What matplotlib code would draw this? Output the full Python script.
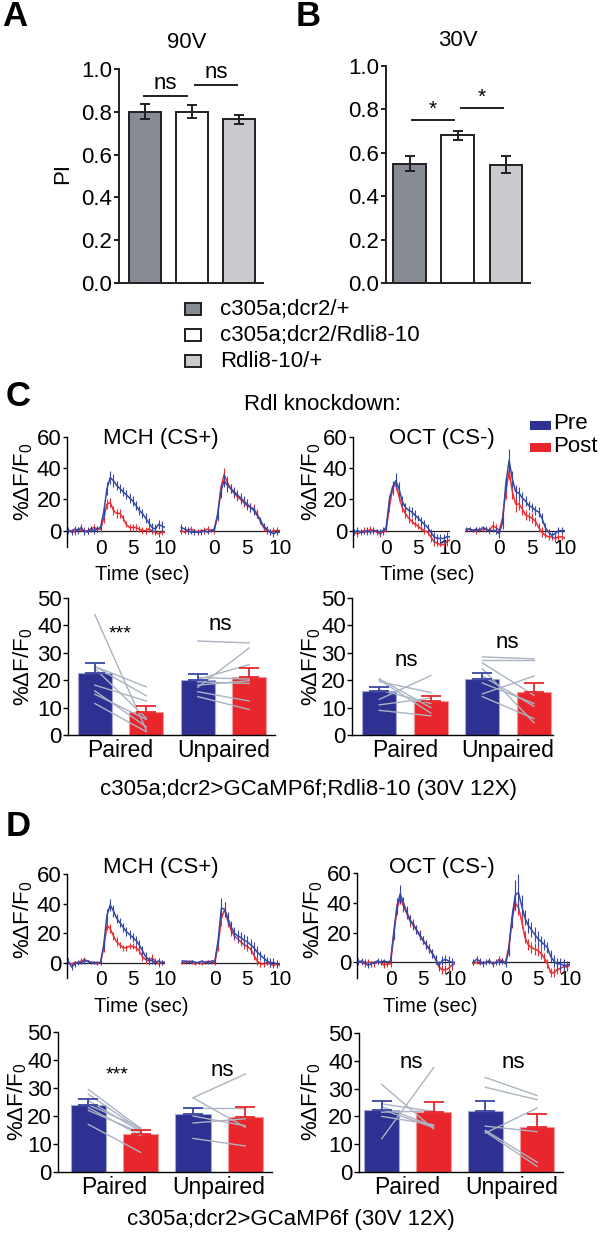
import numpy as np
import matplotlib
matplotlib.use("Agg")
import matplotlib.pyplot as plt
from matplotlib.patches import Rectangle

plt.rcParams["font.family"] = ["Liberation Sans", "DejaVu Sans"]
plt.rcParams["mathtext.fontset"] = "custom"
plt.rcParams["mathtext.rm"] = "Liberation Sans"
plt.rcParams["mathtext.it"] = "Liberation Sans:italic"
plt.rcParams["font.size"] = 16

# -----------------------------
# Data
# -----------------------------
GENOTYPES = ["c305a;dcr2/+", "c305a;dcr2/Rdli8-10", "Rdli8-10/+"]
PI_90V = [0.80, 0.80, 0.765]
PI_90V_SEM = [0.035, 0.030, 0.020]
PI_30V = [0.55, 0.68, 0.545]
PI_30V_SEM = [0.035, 0.020, 0.040]

TIME = [-5.0, -4.5, -4.0, -3.5, -3.0, -2.5, -2.0, -1.5, -1.0, -0.5,
        0.0, 0.5, 1.0, 1.5, 2.0, 2.5, 3.0, 3.5, 4.0, 4.5, 5.0,
        5.5, 6.0, 6.5, 7.0, 7.5, 8.0, 8.5, 9.0, 9.5, 10.0]

# panel C traces (Rdl knockdown)
C_MCH_P_PRE = [0, -1, 1, 0, 2, -1, 0, 1, 0, 1, 2, 12, 27, 34, 32, 29, 27, 25, 23, 21, 19, 16, 13, 11, 8, 5, 2, 1, 4, 3, 2]
C_MCH_P_PRE_SEM = [2, 2, 2, 2, 2, 2, 2, 2, 2, 2, 2, 3, 4, 4, 4, 3, 3, 3, 3, 3, 3, 3, 3, 3, 3, 3, 3, 3, 3, 3, 3]
C_MCH_P_POST = [0, 0, -1, 1, 0, 0, -1, 1, 2, 1, 1, 8, 17, 18, 13, 11, 11, 8, 4, 2, 2, 2, 1, 0, 0, 1, 0, -1, -2, -1, -1]
C_MCH_P_POST_SEM = [1, 1, 2, 1, 1, 2, 1, 2, 2, 2, 2, 3, 3, 3, 3, 3, 3, 2, 2, 2, 2, 2, 2, 2, 2, 2, 2, 2, 2, 2, 2]
C_MCH_U_PRE = [2, 1, 0, -1, -1, -1, -1, 0, -1, 0, 1, 10, 25, 32, 29, 27, 25, 23, 21, 19, 17, 15, 13, 10, 7, 3, 1, -1, -2, -1, -1]
C_MCH_U_PRE_SEM = [2, 2, 2, 1, 2, 1, 2, 1, 1, 1, 2, 3, 4, 4, 4, 3, 3, 3, 3, 3, 3, 3, 3, 2, 2, 2, 2, 2, 2, 2, 2]
C_MCH_U_POST = [0, -1, 0, 1, 0, -1, 0, 0, 1, 0, 0, 9, 27, 36, 31, 27, 24, 22, 20, 18, 16, 15, 14, 11, 6, 2, 0, -1, 0, 0, 0]
C_MCH_U_POST_SEM = [2, 1, 2, 2, 1, 2, 1, 2, 2, 1, 2, 3, 4, 4, 4, 3, 3, 3, 3, 3, 3, 3, 3, 3, 2, 2, 2, 2, 2, 2, 2]
C_OCT_P_PRE = [-1, 0, -1, -1, 0, -1, 0, 0, -1, 0, 2, 20, 28, 32, 27, 19, 15, 13, 12, 10, 8, 6, 4, 2, -1, -4, -5, -5, -5, -4, -4]
C_OCT_P_PRE_SEM = [2, 2, 2, 1, 2, 1, 2, 1, 2, 2, 2, 3, 4, 5, 4, 3, 3, 3, 3, 3, 2, 3, 3, 2, 2, 3, 3, 3, 3, 3, 3]
C_OCT_P_POST = [-1, -2, -1, 0, -1, 1, 0, -1, -2, -1, 1, 15, 27, 30, 22, 15, 11, 8, 6, 4, 3, 1, 0, -1, -4, -7, -8, -9, -9, -7, -6]
C_OCT_P_POST_SEM = [2, 2, 1, 2, 2, 2, 1, 2, 2, 2, 2, 3, 4, 4, 3, 3, 3, 3, 2, 2, 2, 2, 2, 2, 3, 3, 3, 3, 3, 3, 3]
C_OCT_U_PRE = [1, 1, 0, 1, 0, 2, 1, 0, 0, 0, -2, 5, 30, 45, 33, 25, 24, 21, 19, 16, 15, 13, 12, 8, 2, -1, -3, -2, 0, 0, 0]
C_OCT_U_PRE_SEM = [1, 1, 1, 1, 1, 1, 2, 1, 1, 2, 3, 4, 5, 7, 5, 4, 4, 4, 3, 3, 3, 3, 3, 3, 3, 2, 2, 2, 2, 2, 2]
C_OCT_U_POST = [0, 1, 0, 0, 1, 0, 1, 0, 3, 2, 0, 8, 25, 38, 25, 17, 17, 14, 10, 9, 8, 6, 2, -1, -3, -4, -4, -5, -4, -4, -5]
C_OCT_U_POST_SEM = [1, 1, 1, 2, 1, 1, 1, 2, 3, 2, 2, 4, 5, 5, 5, 5, 4, 4, 3, 3, 3, 3, 3, 3, 2, 2, 2, 2, 2, 2, 2]

# panel D traces (control)
D_MCH_P_PRE = [1, -3, -1, 0, 0, 1, 1, 0, 0, 0, 0, 12, 32, 39, 35, 30, 27, 24, 21, 19, 17, 15, 12, 8, 4, 2, 1, 0, 1, 0, 0]
D_MCH_P_PRE_SEM = [2, 2, 2, 2, 1, 2, 1, 1, 1, 1, 2, 3, 4, 4, 4, 3, 3, 3, 3, 3, 3, 3, 3, 3, 3, 2, 2, 2, 2, 2, 2]
D_MCH_P_POST = [0, -1, 0, 0, 1, 2, 1, 0, 0, -1, 0, 10, 25, 23, 18, 14, 12, 10, 10, 11, 11, 10, 8, 4, 2, 1, 3, 1, -1, 0, 0]
D_MCH_P_POST_SEM = [1, 1, 1, 1, 2, 2, 1, 1, 1, 1, 1, 3, 3, 3, 3, 3, 2, 2, 2, 2, 2, 2, 2, 3, 3, 3, 3, 2, 2, 2, 2]
D_MCH_U_PRE = [1, 1, 0, 1, 0, 0, 1, 0, 0, 1, 1, 15, 37, 36, 30, 24, 20, 18, 17, 15, 14, 12, 10, 7, 5, 3, 1, 0, 0, -1, -1]
D_MCH_U_PRE_SEM = [1, 1, 1, 1, 1, 1, 1, 1, 1, 1, 2, 4, 7, 5, 4, 4, 4, 4, 4, 4, 4, 4, 4, 4, 3, 3, 3, 3, 3, 3, 3]
D_MCH_U_POST = [0, 0, 1, 0, -1, 0, -1, 0, 1, 0, 0, 12, 30, 36, 28, 22, 18, 16, 14, 12, 11, 9, 5, 1, -1, -1, 0, -1, -2, -1, -2]
D_MCH_U_POST_SEM = [1, 1, 1, 1, 1, 1, 1, 1, 1, 1, 2, 4, 5, 5, 4, 4, 3, 3, 3, 3, 3, 3, 3, 3, 2, 2, 2, 2, 2, 2, 2]
D_OCT_P_PRE = [0, 1, 0, -2, -1, 0, 1, 0, 1, 0, 1, 20, 38, 46, 40, 34, 29, 25, 22, 18, 15, 12, 9, 6, 2, -2, 1, 2, 1, 0, 0]
D_OCT_P_PRE_SEM = [2, 2, 2, 2, 2, 1, 2, 2, 1, 1, 2, 4, 5, 6, 4, 4, 3, 3, 3, 3, 3, 3, 3, 3, 3, 3, 3, 3, 3, 3, 3]
D_OCT_P_POST = [1, 0, -1, 0, 0, -1, 0, 0, -2, -1, -1, 18, 36, 43, 38, 33, 28, 26, 22, 19, 15, 12, 9, 6, 2, -3, -5, -5, -4, -2, -1]
D_OCT_P_POST_SEM = [2, 2, 2, 2, 1, 2, 1, 1, 2, 2, 2, 3, 4, 4, 4, 4, 4, 3, 3, 3, 3, 3, 3, 3, 3, 3, 3, 3, 3, 3, 3]
D_OCT_U_PRE = [0, 2, 1, -1, 0, 1, -1, 0, 0, 1, -1, 8, 30, 45, 47, 38, 30, 25, 22, 19, 16, 14, 12, 10, 4, 1, -1, -1, -2, -2, -1]
D_OCT_U_PRE_SEM = [2, 2, 2, 2, 2, 2, 2, 2, 2, 2, 2, 4, 6, 10, 12, 7, 5, 5, 5, 5, 5, 4, 4, 4, 4, 4, 4, 4, 4, 3, 3]
D_OCT_U_POST = [-1, 0, -1, 0, 0, 1, -1, 0, 2, 1, 0, 10, 28, 40, 37, 28, 17, 12, 10, 9, 8, 6, 3, -1, -7, -7, -5, -4, -3, -3, -2]
D_OCT_U_POST_SEM = [1, 1, 1, 1, 1, 1, 1, 1, 2, 2, 2, 4, 5, 5, 5, 5, 4, 4, 4, 4, 4, 4, 3, 3, 3, 3, 3, 3, 3, 3, 3]

# bar summaries: [pre paired, post paired, pre unpaired, post unpaired]
C_MCH_BAR = [22.7, 8.5, 20.0, 21.2]
C_MCH_BAR_SEM = [3.6, 2.1, 2.2, 3.2]
C_OCT_BAR = [16.2, 12.5, 20.5, 15.6]
C_OCT_BAR_SEM = [1.5, 1.8, 2.0, 3.4]
D_MCH_BAR = [24.0, 13.4, 20.8, 19.5]
D_MCH_BAR_SEM = [1.9, 1.5, 2.2, 3.6]
D_OCT_BAR = [22.4, 21.6, 21.9, 16.2]
D_OCT_BAR_SEM = [3.1, 3.6, 3.6, 4.8]

# individual flies (pre -> post)
C_MCH_PAIRED_PRE = [44.0, 25.0, 25.0, 24.3, 18.2, 16.1, 14.9, 11.5]
C_MCH_PAIRED_POST = [1.8, 17.6, 14.3, 6.1, 12.4, 3.0, 5.7, 1.2]
C_MCH_UNPAIRED_PRE = [34.3, 17.4, 20.3, 21.0, 19.4, 18.2, 15.8, 14.0]
C_MCH_UNPAIRED_POST = [33.6, 31.8, 25.7, 20.4, 18.8, 19.8, 12.4, 9.3]
C_OCT_PAIRED_PRE = [20.5, 20.1, 19.5, 16.5, 13.0, 11.0, 9.0]
C_OCT_PAIRED_POST = [10.0, 8.0, 15.5, 11.5, 21.7, 13.5, 7.0]
C_OCT_UNPAIRED_PRE = [28.5, 27.5, 26.3, 24.2, 21.5, 19.0, 15.0, 14.0]
C_OCT_UNPAIRED_POST = [27.8, 27.5, 14.5, 4.5, 10.5, 11.5, 21.5, 6.0]
D_MCH_PAIRED_PRE = [29.5, 27.8, 25.5, 24.0, 23.0, 22.0, 17.0]
D_MCH_PAIRED_POST = [15.5, 15.0, 14.5, 15.8, 13.0, 14.0, 7.0]
D_MCH_UNPAIRED_PRE = [26.5, 26.5, 22.8, 20.0, 17.5, 12.0]
D_MCH_UNPAIRED_POST = [35.0, 16.0, 22.8, 16.5, 19.0, 9.3]
D_OCT_PAIRED_PRE = [12.0, 31.5, 24.5, 23.5, 22.5, 21.5, 20.0]
D_OCT_PAIRED_POST = [37.5, 15.5, 21.8, 16.5, 16.0, 22.0, 17.0]
D_OCT_UNPAIRED_PRE = [34.0, 30.5, 14.0, 16.5, 15.0, 14.5]
D_OCT_UNPAIRED_POST = [27.5, 26.0, 23.0, 14.5, 3.5, 2.0]

# -----------------------------
# Style
# -----------------------------
W, H = 600, 1236
INK = "#231f20"
PI_COLORS = ["#878c94", "#ffffff", "#c9cbcf"]
BAR_BLUE, BAR_RED = "#2e3192", "#e8262b"
TR_BLUE, TR_RED = "#3548a6", "#ee2b2f"
GRAY = "#aab4c3"
YLAB = "%ΔF/F$_0$"

fig = plt.figure(figsize=(6, 12.36), dpi=100)


def px_axes(l, t, r, b):
    return fig.add_axes([l / W, 1 - b / H, (r - l) / W, (b - t) / H])


def ftext(x, y, s, **kw):
    kw.setdefault("ha", "center")
    kw.setdefault("va", "center")
    fig.text(x / W, 1 - y / H, s, **kw)


def pi_panel(ax, vals, sems, xlim):
    xs = np.arange(len(vals))
    ax.bar(xs, vals, width=0.68, color=PI_COLORS, edgecolor=INK, lw=1.4, zorder=2)
    ax.errorbar(xs, vals, yerr=sems, fmt="none", ecolor=INK, elinewidth=1.4,
                capsize=3.5, capthick=1.4, zorder=3)
    ax.set_xlim(*xlim)
    ax.set_ylim(0, 1)
    ax.set_yticks([0, 0.2, 0.4, 0.6, 0.8, 1.0])
    ax.set_yticklabels(["0.0", "0.2", "0.4", "0.6", "0.8", "1.0"])
    ax.set_xticks([])
    for s in ("top", "right"):
        ax.spines[s].set_visible(False)
    for s in ("left", "bottom"):
        ax.spines[s].set_linewidth(1.4)
        ax.spines[s].set_color(INK)
    ax.tick_params(axis="y", length=3.5, width=1.4, pad=1.5, labelsize=16, color=INK)


def bracket(ax, x0, x1, y, label, ty, size=16):
    ax.plot([x0, x1], [y, y], color=INK, lw=1.4, clip_on=False)
    ax.text((x0 + x1) / 2, ty, label, ha="center", va="bottom", fontsize=size, clip_on=False)


def trace(ax, pre, pre_sem, post, post_sem, show_y):
    ax.axhline(0, color=INK, lw=0.9, zorder=1)
    ax.errorbar(TIME, post, yerr=post_sem, color=TR_RED, lw=1.1, elinewidth=0.8, capsize=0, zorder=2)
    ax.errorbar(TIME, pre, yerr=pre_sem, color=TR_BLUE, lw=1.1, elinewidth=0.8, capsize=0, zorder=3)
    ax.set_xlim(-5.2, 10)
    ax.set_ylim(-10.5, 60)
    ax.set_xticks([0, 5, 10])
    ax.tick_params(axis="x", length=0, pad=-5.5, labelsize=15)
    for s in ("top", "right", "bottom"):
        ax.spines[s].set_visible(False)
    if show_y:
        ax.set_yticks([0, 20, 40, 60])
        ax.spines["left"].set_linewidth(1.0)
        ax.tick_params(axis="y", length=3, width=1.0, pad=1, labelsize=16)
    else:
        ax.spines["left"].set_visible(False)
        ax.set_yticks([])
    ax.patch.set_alpha(0)


def resp_bars(ax, means, sems, p_pre, p_post, u_pre, u_post, xlim, width):
    xs = np.arange(4)
    cols = [BAR_BLUE, BAR_RED, BAR_BLUE, BAR_RED]
    edges = ["#a3a8d8", "#f39a9a", "#a3a8d8", "#f39a9a"]
    ax.bar(xs, means, width=width, color=cols, edgecolor=edges, lw=0.8, zorder=2)
    for a, b in zip(p_pre, p_post):
        ax.plot([0, 1], [a, b], color=GRAY, lw=1.0, zorder=3)
    for a, b in zip(u_pre, u_post):
        ax.plot([2, 3], [a, b], color=GRAY, lw=1.0, zorder=3)
    for x, m, e, c in zip(xs, means, sems, ["#3b46a0", "#e8262b", "#3b46a0", "#e8262b"]):
        ax.errorbar([x], [m], yerr=[[0], [e]], fmt="none", ecolor=c, elinewidth=1.3,
                    capsize=7, capthick=1.3, zorder=4)
    ax.set_xlim(*xlim)
    ax.set_ylim(0, 50)
    ax.set_yticks([0, 10, 20, 30, 40, 50])
    ax.set_xticks([0.5, 2.5])
    ax.set_xticklabels(["Paired", "Unpaired"], fontsize=16.5)
    ax.tick_params(axis="x", length=0, pad=3)
    ax.tick_params(axis="y", length=3.5, width=1.0, pad=1, labelsize=16)
    for s in ("top", "right"):
        ax.spines[s].set_visible(False)
    for s in ("left", "bottom"):
        ax.spines[s].set_linewidth(1.0)


# -----------------------------
# Panels A and B
# -----------------------------
ax_a = px_axes(119, 69, 263, 283)
pi_panel(ax_a, PI_90V, PI_90V_SEM, (-0.55, 2.51))
bracket(ax_a, -0.02, 0.89, 0.874, "ns", 0.885)
bracket(ax_a, 1.06, 1.96, 0.925, "ns", 0.935)
ax_b = px_axes(386, 66, 530, 283)
pi_panel(ax_b, PI_30V, PI_30V_SEM, (-0.49, 2.5))
bracket(ax_b, 0.05, 0.92, 0.75, "*", 0.755, size=15)
bracket(ax_b, 1.07, 1.94, 0.806, "*", 0.81, size=15)

ftext(15, 17, "A", fontsize=25, fontweight="bold")
ftext(308, 17, "B", fontsize=25, fontweight="bold")
ftext(187, 42, "90V")
ftext(458, 40, "30V")
ftext(63, 173, "PI", rotation=90)

for i, name in enumerate(GENOTYPES):
    yc = 309 + 26 * i
    fig.add_artist(Rectangle((185 / W, 1 - (yc + 6) / H), 16 / W, 12 / H,
                             transform=fig.transFigure, facecolor=PI_COLORS[i],
                             edgecolor=INK, lw=1.4))
    ftext(220, yc, name, ha="left")

# -----------------------------
# Panel C
# -----------------------------
ftext(18, 396, "C", fontsize=25, fontweight="bold")
ftext(322, 405, "Rdl knockdown:")
for yc, col, lab in ((426, BAR_BLUE, "Pre"), (448, BAR_RED, "Post")):
    fig.add_artist(Rectangle((530 / W, 1 - (yc + 4) / H), 21 / W, 9 / H,
                             transform=fig.transFigure, facecolor=col, edgecolor="none"))
    ftext(553, yc - 2, lab, ha="left")

trace(px_axes(67, 437, 165, 547), C_MCH_P_PRE, C_MCH_P_PRE_SEM, C_MCH_P_POST, C_MCH_P_POST_SEM, True)
trace(px_axes(180, 437, 280, 547), C_MCH_U_PRE, C_MCH_U_PRE_SEM, C_MCH_U_POST, C_MCH_U_POST_SEM, False)
trace(px_axes(353, 437, 450, 547), C_OCT_P_PRE, C_OCT_P_PRE_SEM, C_OCT_P_POST, C_OCT_P_POST_SEM, True)
trace(px_axes(465, 437, 565, 547), C_OCT_U_PRE, C_OCT_U_PRE_SEM, C_OCT_U_POST, C_OCT_U_POST_SEM, False)
ftext(161, 438, "MCH (CS+)")
ftext(442, 438, "OCT (CS-)")
ftext(23, 482, YLAB, rotation=90)
ftext(311, 482, YLAB, rotation=90)
ftext(142, 574, "Time (sec)", fontsize=14.5)
ftext(427, 574, "Time (sec)", fontsize=14.5)

resp_bars(px_axes(68, 598, 275, 735), C_MCH_BAR, C_MCH_BAR_SEM,
          C_MCH_PAIRED_PRE, C_MCH_PAIRED_POST, C_MCH_UNPAIRED_PRE, C_MCH_UNPAIRED_POST,
          (-0.52, 3.5), 0.66)
resp_bars(px_axes(352, 598, 553, 735), C_OCT_BAR, C_OCT_BAR_SEM,
          C_OCT_PAIRED_PRE, C_OCT_PAIRED_POST, C_OCT_UNPAIRED_PRE, C_OCT_UNPAIRED_POST,
          (-0.53, 3.37), 0.66)
ftext(23, 667, YLAB, rotation=90)
ftext(311, 667, YLAB, rotation=90)
ftext(120, 634, "***", fontsize=14)
ftext(220, 624, "ns")
ftext(406, 660, "ns")
ftext(507, 643, "ns")
ftext(308, 790, "c305a;dcr2>GCaMP6f;Rdli8-10 (30V 12X)")

# -----------------------------
# Panel D
# -----------------------------
ftext(18, 826, "D", fontsize=25, fontweight="bold")
trace(px_axes(67, 874, 165, 978), D_MCH_P_PRE, D_MCH_P_PRE_SEM, D_MCH_P_POST, D_MCH_P_POST_SEM, True)
trace(px_axes(181, 874, 280, 978), D_MCH_U_PRE, D_MCH_U_PRE_SEM, D_MCH_U_POST, D_MCH_U_POST_SEM, False)
trace(px_axes(357, 873, 455, 978), D_OCT_P_PRE, D_OCT_P_PRE_SEM, D_OCT_P_POST, D_OCT_P_POST_SEM, True)
trace(px_axes(472, 873, 570, 978), D_OCT_U_PRE, D_OCT_U_PRE_SEM, D_OCT_U_POST, D_OCT_U_POST_SEM, False)
ftext(161, 868, "MCH (CS+)")
ftext(442, 868, "OCT (CS-)")
ftext(23, 920, YLAB, rotation=90)
ftext(313, 920, YLAB, rotation=90)
ftext(141, 1007, "Time (sec)", fontsize=14.5)
ftext(430, 1007, "Time (sec)", fontsize=14.5)

resp_bars(px_axes(58, 1032, 272, 1172), D_MCH_BAR, D_MCH_BAR_SEM,
          D_MCH_PAIRED_PRE, D_MCH_PAIRED_POST, D_MCH_UNPAIRED_PRE, D_MCH_UNPAIRED_POST,
          (-0.58, 3.51), 0.67)
resp_bars(px_axes(359, 1033, 563, 1172), D_OCT_BAR, D_OCT_BAR_SEM,
          D_OCT_PAIRED_PRE, D_OCT_PAIRED_POST, D_OCT_UNPAIRED_PRE, D_OCT_UNPAIRED_POST,
          (-0.44, 3.5), 0.67)
ftext(17, 1102, YLAB, rotation=90)
ftext(311, 1102, YLAB, rotation=90)
ftext(117, 1075, "***", fontsize=14)
ftext(222, 1070, "ns")
ftext(411, 1063, "ns")
ftext(513, 1063, "ns")
ftext(291, 1220, "c305a;dcr2>GCaMP6f (30V 12X)")

fig.savefig("out.png", dpi=100)
